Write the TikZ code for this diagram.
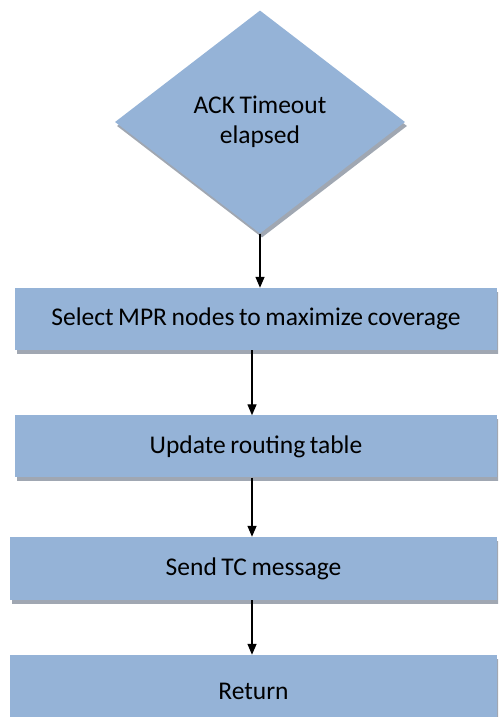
\documentclass[tikz,border=0pt]{standalone}
\usepackage{fontspec}
\setmainfont{Carlito}
\usetikzlibrary{shapes.geometric, arrows.meta, positioning, shadows}
\definecolor{boxcolor}{RGB}{149,179,215}
\definecolor{shadowcolor}{RGB}{120,130,145}
\newcommand{\stepfont}{\fontsize{25.5}{30}\selectfont\spaceskip=0.18em plus 0.05em\relax}

\begin{document}
\begin{tikzpicture}[
    x=1pt, y=1pt,
    decision/.style={diamond, fill=boxcolor, minimum width=290pt, minimum height=223pt, inner sep=0pt, align=center, font=\stepfont, drop shadow={shadow xshift=2pt, shadow yshift=-4pt, fill=shadowcolor, opacity=0.7}},
    process/.style={rectangle, fill=boxcolor, minimum width=482pt, minimum height=62pt, inner sep=0pt, font=\stepfont, drop shadow={shadow xshift=2pt, shadow yshift=-4pt, fill=shadowcolor, opacity=0.7}},
    arrow/.style={-{Triangle[width=9pt, length=11pt]}, line width=1.4pt, black}
]
    \useasboundingbox (0,0) rectangle (498,717);
    \clip (0,0) rectangle (498,717);

    % Timeout check
    \node[decision] (ack) at (260,595) {ACK Timeout\\elapsed};

    % Steps
    \node[process] (sel) at (256,398) {Select MPR nodes to maximize coverage};
    \node[process] (upd) at (256,270.5) {Update routing table};
    \node[process, minimum width=487pt, minimum height=63pt] (snd) at (253.5,148.5) {Send TC message};
    \node[process, minimum width=487pt, minimum height=72pt] (ret) at (253.5,26) {Return};

    % Arrows
    \draw[arrow] (ack.south) -- (ack.south |- sel.north);
    \draw[arrow] ([xshift=-4pt]sel.south) -- ([xshift=-4pt]sel.south |- upd.north);
    \draw[arrow] ([xshift=-4pt]upd.south) -- ([xshift=-4pt]upd.south |- snd.north);
    \draw[arrow] ([xshift=-1.5pt]snd.south) -- ([xshift=-1.5pt]snd.south |- ret.north);
\end{tikzpicture}
\end{document}
